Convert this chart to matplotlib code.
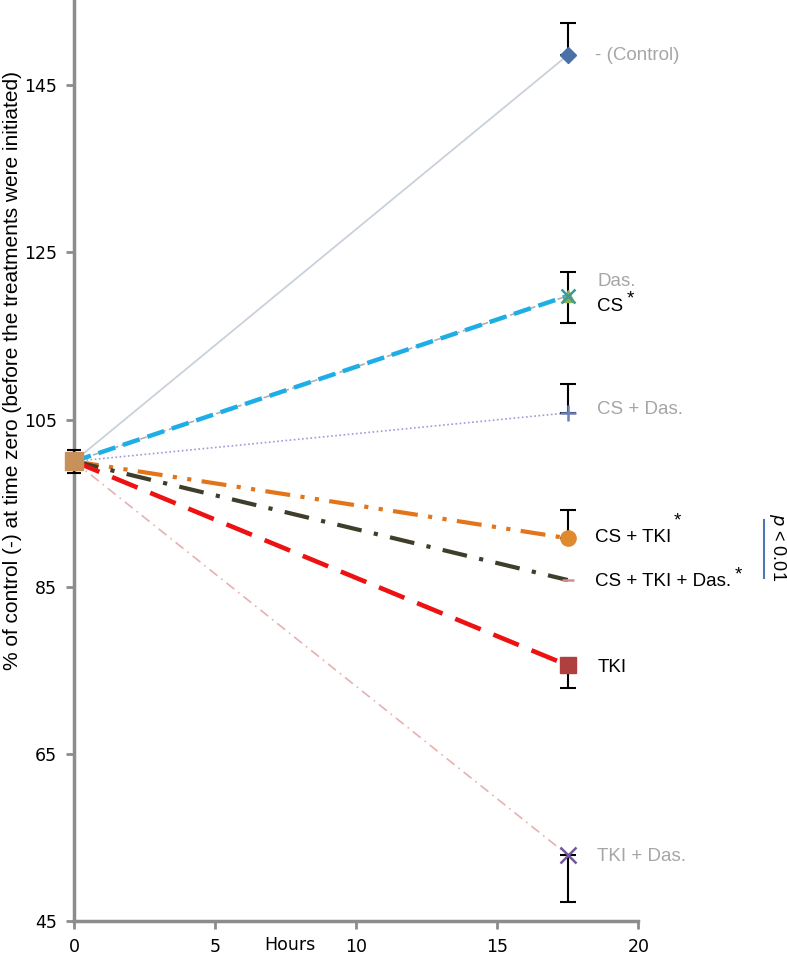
import numpy as np
import matplotlib
matplotlib.use('Agg')
import matplotlib.pyplot as plt

# data: % of control at time zero, 0 h and 17.5 h
hours = [0, 17.5]
groups = ['- (Control)', 'Das.', 'CS', 'CS + Das.', 'CS + TKI', 'CS + TKI + Das.', 'TKI', 'TKI + Das.']
end_vals = [148.6, 119.8, 119.8, 105.8, 90.8, 85.8, 75.6, 52.9]
err_low = [0.0, 0.0, 3.2, 0.0, 0.0, 0.0, 2.7, 5.6]
err_high = [3.8, 0.0, 2.9, 3.4, 3.4, 0.0, 0.0, 0.0]
start_val = 100
start_err = 1.4

# styling per group
styles = {
    '- (Control)':     dict(color='#c9d1dc', ls='-', lw=1.3, marker='D', mc='#4a70a8', ms=8),
    'Das.':            dict(color='#b0b0b0', ls=(0, (4, 2)), lw=1.2, marker='^', mc='#8db050', ms=9),
    'CS':              dict(color='#1eaee6', ls=(0, (4, 1.8)), lw=3.2, marker='x', mc='#3a9a9a', ms=10),
    'CS + Das.':       dict(color='#9c9cdc', ls=(0, (1, 1.5)), lw=1.2, marker='+', mc='#6a80b8', ms=11),
    'CS + TKI':        dict(color='#e3741a', ls=(0, (6, 2.5, 1, 2.5, 1, 2.5)), lw=3.0, marker='o', mc='#e08a30', ms=11),
    'CS + TKI + Das.': dict(color='#3e3e2a', ls=(0, (6, 3, 1, 3)), lw=3.0, marker='_', mc='#d09090', ms=8),
    'TKI':             dict(color='#ee1111', ls=(0, (6, 3)), lw=3.3, marker='s', mc='#b04040', ms=11),
    'TKI + Das.':      dict(color='#e8b0b0', ls=(0, (6, 3, 1, 3)), lw=1.2, marker='x', mc='#705a98', ms=11),
}

fig = plt.figure(figsize=(7.87, 9.57), dpi=100)
ax = fig.add_axes([0.094, 0.0376, 0.717, 0.9624])

for g, v, lo, hi in zip(groups, end_vals, err_low, err_high):
    s = styles[g]
    ax.plot(hours, [start_val, v], color=s['color'], ls=s['ls'], lw=s['lw'], zorder=2)
    if lo > 0 or hi > 0:
        ax.errorbar(hours[1], v, yerr=[[lo], [hi]], fmt='none', ecolor='black',
                    elinewidth=1.5, capsize=6, capthick=1.5, zorder=3)
    ax.plot(hours[1], v, ls='none', marker=s['marker'], color=s['mc'], ms=s['ms'],
            mew=1.8 if s['marker'] in ('x', '+', '_') else 1, zorder=4)

# shared start point
ax.errorbar(0, start_val, yerr=start_err, fmt='none', ecolor='black', elinewidth=1.5,
            capsize=5, capthick=1.5, zorder=4, clip_on=False)
ax.plot(0, start_val, ls='none', marker='s', color='#c8915a', ms=13, zorder=5, clip_on=False)

ax.set_xlim(0, 20)
ax.set_ylim(45, 155.2)
ax.set_xticks([0, 5, 10, 15, 20])
ax.set_yticks([45, 65, 85, 105, 125, 145])
for sp in ['top', 'right']:
    ax.spines[sp].set_visible(False)
for sp in ['left', 'bottom']:
    ax.spines[sp].set_color('#8c8c8c')
    ax.spines[sp].set_linewidth(2.5)
ax.tick_params(colors='#8c8c8c', width=2, length=6, labelsize=12.5, labelcolor='black')
ax.tick_params(axis='x', pad=6)
ax.tick_params(axis='y', pad=6)

fig.text(0.368, 0.003, 'Hours', fontsize=12.5, ha='center', va='bottom')
fig.text(0.016, 0.613, '% of control (-) at time zero (before the treatments were initiated)',
         rotation=90, ha='center', va='center', fontsize=15, family='Liberation Sans')

# labels on the right
gray = '#a6a6a6'
lab = dict(fontsize=13.5, family='Liberation Sans', va='center', clip_on=False)
ax.text(18.45, 148.6, '- (Control)', color=gray, **lab)
ax.text(18.55, 121.5, 'Das.', color=gray, **lab)
ax.text(18.55, 118.5, 'CS', color='black', **lab)
ax.text(19.6, 119.4, '*', color='black', **lab)
ax.text(18.55, 106.2, 'CS + Das.', color=gray, **lab)
ax.text(18.45, 90.9, 'CS + TKI', color='black', **lab)
ax.text(21.25, 92.9, '*', color='black', **lab)
ax.text(18.45, 85.6, 'CS + TKI + Das.', color='black', **lab)
ax.text(23.4, 86.4, '*', color='black', **lab)
ax.text(18.55, 75.3, 'TKI', color='black', **lab)
ax.text(18.55, 52.7, 'TKI + Das.', color=gray, **lab)

ax.plot([24.45, 24.45], [86.0, 93.0], color='#4a78b8', lw=1.5, clip_on=False)
ax.text(24.95, 89.8, r'$p$ < 0.01', rotation=-90, fontsize=13, family='Liberation Sans',
        ha='center', va='center', clip_on=False)

fig.savefig('out.png', dpi=100)
